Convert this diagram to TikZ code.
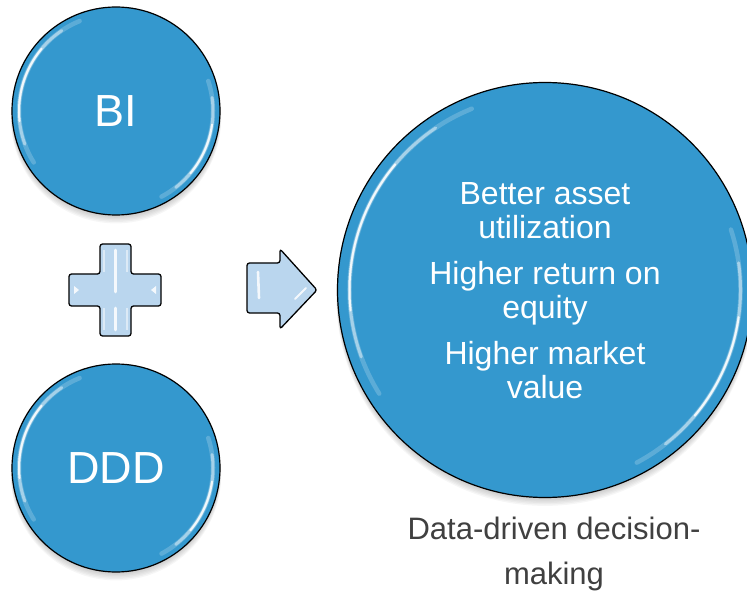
\documentclass[tikz,border=0pt]{standalone}
\usepackage{fontspec}
\setmainfont{Liberation Sans}
\usetikzlibrary{calc}
\definecolor{discblue}{RGB}{52,152,206}
\definecolor{symblue}{RGB}{186,214,238}
\definecolor{labelgray}{RGB}{64,64,64}
\begin{document}
\begin{tikzpicture}[x=1pt,y=1pt,
  disc/.style={circle, draw=black, line width=1.2pt, fill=discblue,
    text=white, inner sep=0pt, minimum size=#1},
  symbol/.style={draw=black, line width=1.3pt, fill=symblue,
    rounded corners=2.5pt, line join=round},
  gloss/.style={white, line cap=round},
  streak/.style={white, line cap=round, line width=2.6pt, opacity=0.85}]
\useasboundingbox (0,0) rectangle (747,590);

% soft drop shadows under the three discs
\foreach \cx/\cy/\r in {116/479/104, 116/122/104, 545/300/207.5}{
  \foreach \k in {1,...,6}
    \fill[black, opacity=0.035] (\cx,\cy-1.2*\k) circle (\r+0.2*\k);
}

% discs
\node[disc=208pt, font=\fontsize{45}{50}\selectfont] (bi)  at (116,479) {BI};
\node[disc=208pt, font=\fontsize{45}{50}\selectfont] (ddd) at (116,122) {DDD};
\node[disc=415pt] (out) at (545,300) {};

% glossy rim highlights
\foreach \n/\r/\d in {bi/104/7, ddd/104/7, out/207.5/12}{
  \draw[gloss, line width=4.5pt, opacity=0.2]
    ($(\n.center)+(212:\r-\d)$) arc[start angle=212, end angle=112, radius=\r-\d];
  \draw[gloss, line width=3pt, opacity=0.45]
    ($(\n.center)+(200:\r-\d)$) arc[start angle=200, end angle=124, radius=\r-\d];
  \draw[gloss, line width=2pt, opacity=0.85]
    ($(\n.center)+(186:\r-\d)$) arc[start angle=186, end angle=140, radius=\r-\d];
  \draw[gloss, line width=4.5pt, opacity=0.2]
    ($(\n.center)+(-62:\r-\d)$) arc[start angle=-62, end angle=18, radius=\r-\d];
  \draw[gloss, line width=3pt, opacity=0.45]
    ($(\n.center)+(-52:\r-\d)$) arc[start angle=-52, end angle=8, radius=\r-\d];
  \draw[gloss, line width=2pt, opacity=0.85]
    ($(\n.center)+(-40:\r-\d)$) arc[start angle=-40, end angle=-8, radius=\r-\d];
}

% outcome text
\node[text=white, align=center, font=\fontsize{32}{34}\selectfont] (gains) at (545,299.5)
  {Better asset\\utilization\\[12pt]Higher return on\\equity\\[12pt]Higher market\\value};

% caption
\node[text=labelgray, align=center, font=\fontsize{31}{45}\selectfont] (caption) at (554,36.5)
  {Data-driven decision-\\making};

% plus sign
\draw[symbol] (100,346) -- (131,346) -- (131,316) -- (161,316) -- (161,284)
  -- (131,284) -- (131,254) -- (100,254) -- (100,284) -- (69,284)
  -- (69,316) -- (100,316) -- cycle;
\draw[streak] (115.5,340) -- (115.5,298);
\draw[streak] (115.5,282) -- (115.5,260);
\draw[white, line width=1.2pt, opacity=0.5] (104,340) -- (104,318) (127,340) -- (127,318)
  (104,282) -- (104,260) (127,282) -- (127,260);
\fill[white, opacity=0.85] (74,296) -- (79,300) -- (74,304) -- cycle;
\fill[white, opacity=0.85] (156,296) -- (151,300) -- (156,304) -- cycle;

% arrow
\draw[symbol] (247,327) -- (280,327) -- (280,341) -- (317,300) -- (280,261)
  -- (280,277) -- (247,277) -- cycle;
\draw[streak] (258,318) -- (259,292);
\draw[streak, line width=2pt] (295,291) -- (306,302);
\end{tikzpicture}
\end{document}
